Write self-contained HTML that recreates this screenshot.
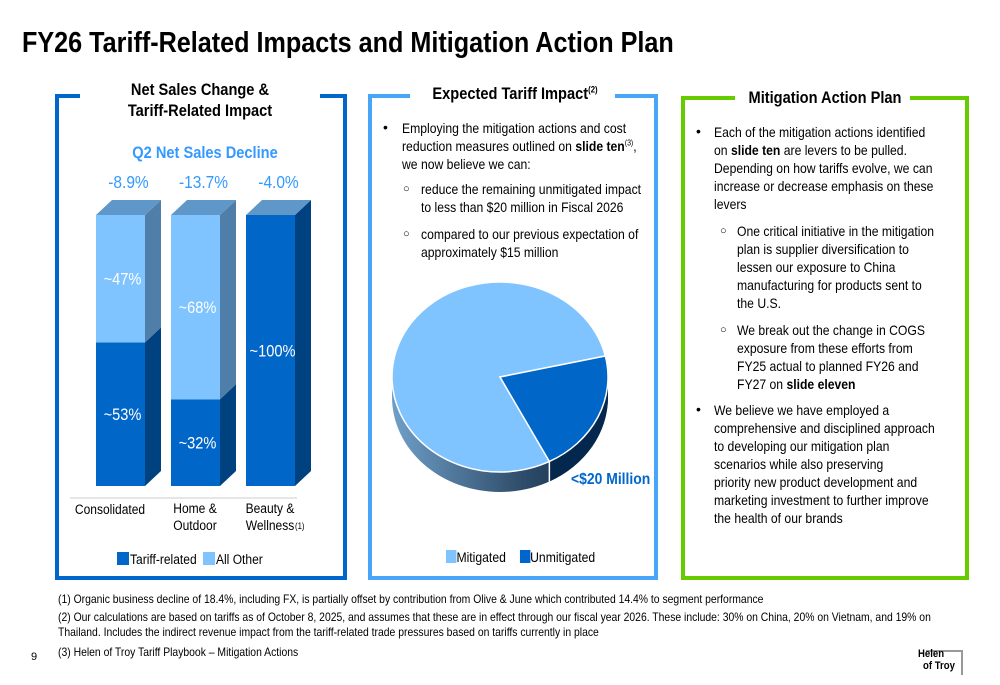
<!DOCTYPE html>
<html><head><meta charset="utf-8">
<style>
*{margin:0;padding:0;box-sizing:border-box}
body{width:1000px;height:685px;background:#fff;position:relative;overflow:hidden;font-family:"Liberation Sans",sans-serif;color:#000}
.abs{position:absolute}
.n{transform:scaleX(.87);transform-origin:left top;white-space:nowrap}
.nc{transform:scaleX(.86);transform-origin:center top;white-space:nowrap}
.ln{position:absolute;white-space:nowrap;font-size:14px;line-height:18px}
sup{line-height:0}
</style></head><body>
<div class="abs n" style="left:22px;top:27px;font-size:29px;font-weight:bold;transform:scaleX(.868)">FY26 Tariff-Related Impacts and Mitigation Action Plan</div>

<svg class="abs" style="left:0;top:0" width="1000" height="685">
 <g fill="none" stroke-width="4">
  <path d="M80,96 H57 V578 H345 V96 H320" stroke="#0066cc"/>
  <path d="M410,96 H370 V578 H656 V96 H615" stroke="#49a5f7"/>
  <path d="M735,98 H683 V578 H967 V98 H910" stroke="#66cc00"/>
 </g>
</svg>

<div class="abs nc" style="left:90px;top:79px;width:220px;text-align:center;font-size:17px;font-weight:bold;line-height:21px">Net Sales Change &amp;<br>Tariff-Related Impact</div>
<div class="abs nc" style="left:90px;top:143px;width:230px;text-align:center;font-size:17px;font-weight:bold;color:#3399ff">Q2 Net Sales Decline</div>

<svg id="bars" class="abs" style="left:0;top:0" width="1000" height="685"></svg>

<div class="abs nc" style="left:415px;top:84px;width:200px;text-align:center;font-size:17px;font-weight:bold">Expected Tariff Impact<sup style="font-size:9px">(2)</sup></div>
<div class="abs" style="left:0;top:0">
 <div class="ln" style="left:383px;top:118px">•</div>
 <div class="ln n" style="left:402px;top:119px">Employing the mitigation actions and cost</div>
 <div class="ln n" style="left:402px;top:137px">reduction measures outlined on <b>slide ten</b><sup style="font-size:8px">(3)</sup>,</div>
 <div class="ln n" style="left:402px;top:155px">we now believe we can:</div>
 <div class="ln" style="left:403px;top:180px;font-size:11px">○</div>
 <div class="ln n" style="left:421px;top:180px">reduce the remaining unmitigated impact</div>
 <div class="ln n" style="left:421px;top:198px">to less than $20 million in Fiscal 2026</div>
 <div class="ln" style="left:403px;top:225px;font-size:11px">○</div>
 <div class="ln n" style="left:421px;top:225px">compared to our previous expectation of</div>
 <div class="ln n" style="left:421px;top:243px">approximately $15 million</div>
</div>
<svg id="pie" class="abs" style="left:0;top:0" width="1000" height="685"></svg>
<div class="abs n" style="left:571px;top:471px;font-size:16px;font-weight:bold;color:#0066cc">&lt;$20 Million</div>
<div class="abs n" style="left:446px;top:549px;font-size:14px">
 <span style="display:inline-block;width:12px;height:13px;background:#80c4ff;vertical-align:-1px"></span>Mitigated
 <span style="display:inline-block;width:12px;height:13px;background:#0066cc;vertical-align:-1px;margin-left:12px"></span>Unmitigated
</div>

<div class="abs nc" style="left:735px;top:88px;width:180px;text-align:center;font-size:17px;font-weight:bold">Mitigation Action Plan</div>
<div class="abs" style="left:0;top:0">
 <div class="ln" style="left:696px;top:122px">•</div>
 <div class="ln n" style="left:714px;top:123px">Each of the mitigation actions identified</div>
 <div class="ln n" style="left:714px;top:141px">on <b>slide ten</b> are levers to be pulled.</div>
 <div class="ln n" style="left:714px;top:159px">Depending on how tariffs evolve, we can</div>
 <div class="ln n" style="left:714px;top:177px">increase or decrease emphasis on these</div>
 <div class="ln n" style="left:714px;top:195px">levers</div>
 <div class="ln" style="left:720px;top:222px;font-size:11px">○</div>
 <div class="ln n" style="left:737px;top:222px">One critical initiative in the mitigation</div>
 <div class="ln n" style="left:737px;top:240px">plan is supplier diversification to</div>
 <div class="ln n" style="left:737px;top:258px">lessen our exposure to China</div>
 <div class="ln n" style="left:737px;top:276px">manufacturing for products sent to</div>
 <div class="ln n" style="left:737px;top:294px">the U.S.</div>
 <div class="ln" style="left:720px;top:321px;font-size:11px">○</div>
 <div class="ln n" style="left:737px;top:321px">We break out the change in COGS</div>
 <div class="ln n" style="left:737px;top:339px">exposure from these efforts from</div>
 <div class="ln n" style="left:737px;top:357px">FY25 actual to planned FY26 and</div>
 <div class="ln n" style="left:737px;top:375px">FY27 on <b>slide eleven</b></div>
 <div class="ln" style="left:696px;top:400px">•</div>
 <div class="ln n" style="left:714px;top:401px">We believe we have employed a</div>
 <div class="ln n" style="left:714px;top:419px">comprehensive and disciplined approach</div>
 <div class="ln n" style="left:714px;top:437px">to developing our mitigation plan</div>
 <div class="ln n" style="left:714px;top:455px">scenarios while also preserving</div>
 <div class="ln n" style="left:714px;top:473px">priority new product development and</div>
 <div class="ln n" style="left:714px;top:491px">marketing investment to further improve</div>
 <div class="ln n" style="left:714px;top:509px">the health of our brands</div>
</div>

<div class="abs" style="left:0;top:0;font-size:12px">
 <div class="abs n" style="left:58px;top:592px;transform:scaleX(.865)">(1) Organic business decline of 18.4%, including FX, is partially offset by contribution from Olive &amp; June which contributed 14.4% to segment performance</div>
 <div class="abs n" style="left:58px;top:610px;transform:scaleX(.865)">(2) Our calculations are based on tariffs as of October 8, 2025, and assumes that these are in effect through our fiscal year 2026. These include: 30% on China, 20% on Vietnam, and 19% on</div>
 <div class="abs n" style="left:58px;top:625px;transform:scaleX(.865)">Thailand. Includes the indirect revenue impact from the tariff-related trade pressures based on tariffs currently in place</div>
 <div class="abs n" style="left:58px;top:645px;transform:scaleX(.865)">(3) Helen of Troy Tariff Playbook – Mitigation Actions</div>
</div>
<div class="abs" style="left:31px;top:651px;font-size:11px">9</div>
<div class="abs" style="left:918px;top:647px;width:46px;height:29px">
 <div class="abs" style="left:8px;top:3px;width:37px;height:25px;border:2px solid #999;border-left:none;border-bottom:none"></div>
 <div class="abs n" style="left:0;top:1px;font-size:11px;font-weight:bold;line-height:12px">Helen</div>
 <div class="abs n" style="left:5px;top:13px;font-size:11px;font-weight:bold;line-height:12px">of Troy</div>
</div>

<script>
const categories=["Consolidated","Home & Outdoor","Beauty & Wellness"];
const netSalesChange=["-8.9%","-13.7%","-4.0%"];
const tariffShare=[53,32,100];
const otherShare=[47,68,0];
const pieLabels=["Mitigated","Unmitigated"];
const pieValues=[79,21];

const NS="http://www.w3.org/2000/svg";
function mk(svg,tag,a){const e=document.createElementNS(NS,tag);for(const k in a)e.setAttribute(k,a[k]);svg.appendChild(e);return e;}
function txt(svg,x,y,s,size,anchor,fill,weight){
 const t=mk(svg,'text',{x:x,y:y,'text-anchor':anchor||'start',fill:fill||'#000','font-size':size,'font-weight':weight||'normal',transform:`translate(${x},0) scale(0.86,1) translate(${-x},0)`});
 t.textContent=s;return t;}
const bs=document.getElementById('bars');
const top0=215,bot=486,bw=49,dx=16,dy=15;
const xOf=i=>96+i*75;
const yOf=v=>bot-(bot-top0)*v/100;
mk(bs,'line',{x1:70,x2:297,y1:498,y2:498,stroke:'#ccc','stroke-width':1});
categories.forEach((c,i)=>{
 const x=xOf(i),yt=yOf(tariffShare[i]),ya=yOf(tariffShare[i]+otherShare[i]);
 let r=mk(bs,'rect',{x:x,y:yt,width:bw,height:bot-yt,fill:'#0066c8'});
 
 
 mk(bs,'polygon',{points:`${x+bw},${yt} ${x+bw+dx},${yt-dy} ${x+bw+dx},${bot-dy} ${x+bw},${bot}`,fill:'#00427f'});
 if(otherShare[i]>0){
  let o=mk(bs,'rect',{x:x,y:ya,width:bw,height:yt-ya,fill:'#80c4ff'});
  
  
  mk(bs,'polygon',{points:`${x+bw},${ya} ${x+bw+dx},${ya-dy} ${x+bw+dx},${yt-dy} ${x+bw},${yt}`,fill:'#4f7fa8'});
 }
 mk(bs,'polygon',{points:`${x},${ya} ${x+dx},${ya-dy} ${x+bw+dx},${ya-dy} ${x+bw},${ya}`,fill:'#5f97c8'});
 txt(bs,x+bw/2+2,(yt+bot)/2+6,'~'+tariffShare[i]+'%',17,'middle','#fff');
 if(otherShare[i]>0) txt(bs,x+bw/2+2,(ya+yt)/2+6,'~'+otherShare[i]+'%',17,'middle','#fff');
 txt(bs,x+bw/2+8,188,netSalesChange[i],18,'middle','#3399ff');
 const parts=c.split(' & ');
 if(parts.length==1) txt(bs,x+14,514,c,14,'middle');
 else{txt(bs,x+24,513,parts[0]+' &',14,'middle');
  txt(bs,x+24,530,parts[1],14,'middle');
  if(i==2) txt(bs,x+49,529,'(1)',9);}
});
mk(bs,'rect',{x:117,y:552,width:12,height:13,fill:'#0066c8'});
txt(bs,130,564,'Tariff-related',14);
mk(bs,'rect',{x:203,y:552,width:12,height:13,fill:'#80c4ff'});
txt(bs,216,564,'All Other',14);

const ps=document.getElementById('pie');
const cx=500,cy=377,rx=108,ry=95,dep=20;
const tot=pieValues.reduce((a,b)=>a+b,0);
const startDeg=-12.8;
const a1=startDeg*Math.PI/180, a2=(startDeg+360*pieValues[1]/tot)*Math.PI/180;
const P=a=>[cx+rx*Math.cos(a),cy+ry*Math.sin(a)];
const defs=mk(ps,'defs',{});
const g=mk(defs,'linearGradient',{id:'sg',x1:0,x2:1,y1:0,y2:0});
mk(g,'stop',{offset:0,'stop-color':'#6f9fc8'});mk(g,'stop',{offset:0.6,'stop-color':'#2f4d6a'});mk(g,'stop',{offset:1,'stop-color':'#0b2a4a'});
mk(ps,'path',{d:`M${cx-rx},${cy} A${rx},${ry} 0 0 0 ${cx+rx},${cy} L${cx+rx},${cy+dep} A${rx},${ry} 0 0 1 ${cx-rx},${cy+dep} Z`,fill:'url(#sg)'});
const [sx,sy]=P(a2);
mk(ps,'path',{d:`M${cx+rx},${cy} A${rx},${ry} 0 0 1 ${sx},${sy} L${sx},${sy+dep} A${rx},${ry} 0 0 0 ${cx+rx},${cy+dep} Z`,fill:'#04284d'});
mk(ps,'line',{x1:sx,y1:sy,x2:sx,y2:sy+dep,stroke:'#fff','stroke-width':1.5});
const [ax,ay]=P(a1);
let m=mk(ps,'path',{d:`M${cx},${cy} L${sx},${sy} A${rx},${ry} 0 1 1 ${ax},${ay} Z`,fill:'#80c4ff',stroke:'#fff','stroke-width':1.5});


m=mk(ps,'path',{d:`M${cx},${cy} L${ax},${ay} A${rx},${ry} 0 0 1 ${sx},${sy} Z`,fill:'#0066c8',stroke:'#fff','stroke-width':1.5});


</script>
</body></html>
